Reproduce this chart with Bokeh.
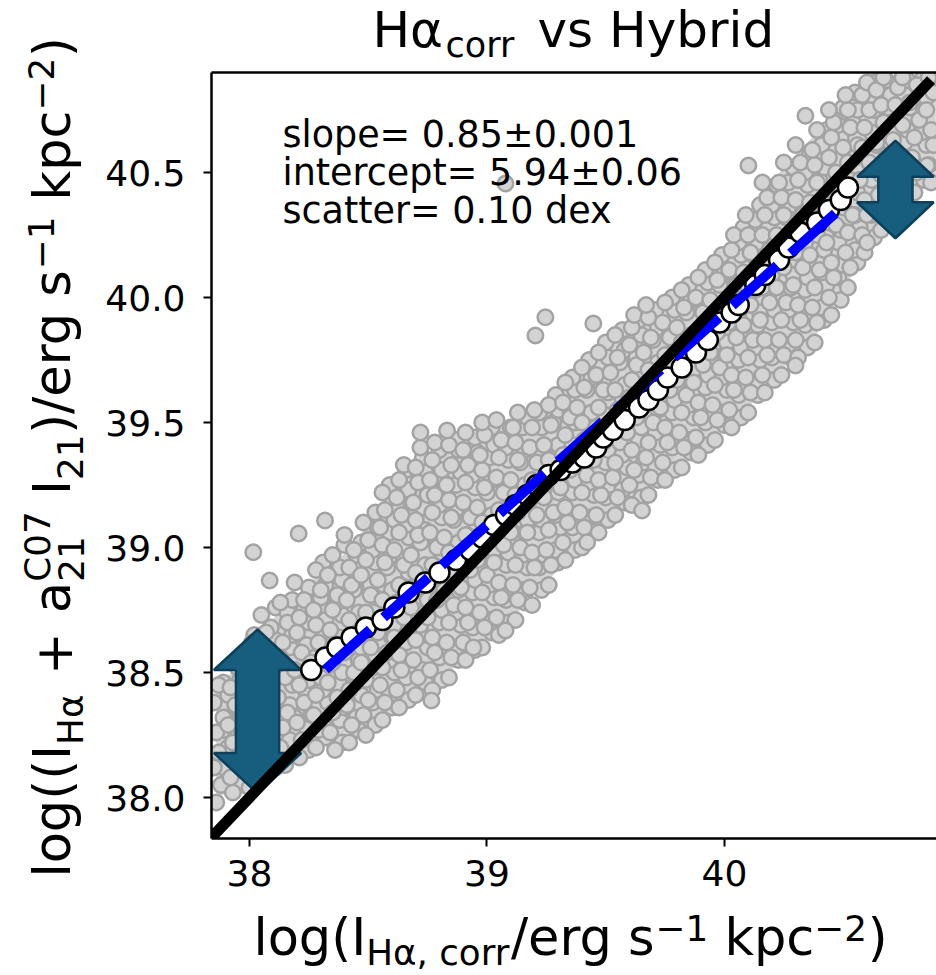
import math
from bokeh.plotting import figure
from bokeh.layouts import row, column
from bokeh.models import Range1d, LinearAxis, Label, FixedTicker, PrintfTickFormatter
from bokeh.embed import file_html
from bokeh.resources import INLINE

# ---------------- data ----------------
# gray cloud (log I_Halpha,corr , log(I_Halpha + a21 I21)), listed column by column
gray_x = [
    37.86, 37.88, 37.85, 37.87, 37.86, 37.89, 37.85, 37.87,
    37.93, 37.92, 37.95, 37.93, 37.91, 37.94, 37.92, 37.95,
    38.00, 38.02, 37.99, 38.01, 37.98, 38.02, 38.00, 37.99, 38.01,
    38.07, 38.06, 38.08, 38.05, 38.07, 38.09, 38.06, 38.08, 38.07, 38.05,
    38.15, 38.13, 38.14, 38.16, 38.12, 38.15, 38.13, 38.14, 38.16, 38.13,
    38.21, 38.22, 38.20, 38.23, 38.21, 38.19, 38.22, 38.20, 38.21, 38.23, 38.19,
    38.28, 38.29, 38.27, 38.28, 38.30, 38.26, 38.29, 38.28, 38.27, 38.30, 38.28,
    38.36, 38.34, 38.35, 38.37, 38.33, 38.35, 38.36, 38.34, 38.35, 38.37, 38.33, 38.35,
    38.42, 38.43, 38.41, 38.42, 38.44, 38.40, 38.43, 38.42, 38.41, 38.43, 38.42, 38.44, 38.40,
    38.49, 38.48, 38.50, 38.49, 38.47, 38.51, 38.48, 38.49, 38.51, 38.47, 38.49, 38.50, 38.48,
    38.56, 38.57, 38.55, 38.56, 38.58, 38.54, 38.57, 38.56, 38.54, 38.57, 38.56, 38.55, 38.57, 38.56,
    38.63, 38.62, 38.64, 38.63, 38.61, 38.65, 38.62, 38.63, 38.65, 38.61, 38.63, 38.64, 38.62, 38.63, 38.65,
    38.70, 38.71, 38.69, 38.70, 38.72, 38.68, 38.71, 38.70, 38.68, 38.71, 38.70, 38.69, 38.71, 38.70, 38.72,
    38.77, 38.76, 38.78, 38.77, 38.75, 38.79, 38.76, 38.77, 38.79, 38.76, 38.77, 38.78, 38.76, 38.77, 38.78,
    38.84, 38.85, 38.83, 38.84, 38.86, 38.82, 38.85, 38.84, 38.82, 38.85, 38.84, 38.83, 38.85, 38.84,
    38.91, 38.90, 38.92, 38.91, 38.89, 38.93, 38.90, 38.91, 38.93, 38.90, 38.91, 38.92, 38.90, 38.91,
    38.98, 38.99, 38.97, 38.98, 39.00, 38.96, 38.99, 38.98, 38.96, 38.99, 38.98, 38.97, 38.99, 38.98,
    39.05, 39.04, 39.06, 39.05, 39.03, 39.07, 39.04, 39.05, 39.07, 39.04, 39.05, 39.06, 39.04,
    39.12, 39.13, 39.11, 39.12, 39.14, 39.10, 39.13, 39.12, 39.10, 39.13, 39.12, 39.11, 39.13,
    39.19, 39.18, 39.20, 39.19, 39.17, 39.21, 39.18, 39.19, 39.21, 39.18, 39.19, 39.20,
    39.26, 39.27, 39.25, 39.26, 39.28, 39.24, 39.27, 39.26, 39.24, 39.27, 39.26,
    39.33, 39.32, 39.34, 39.33, 39.31, 39.35, 39.32, 39.33, 39.35, 39.32, 39.33,
    39.40, 39.41, 39.39, 39.40, 39.42, 39.38, 39.41, 39.40, 39.38, 39.41, 39.40,
    39.47, 39.46, 39.48, 39.47, 39.45, 39.49, 39.46, 39.47, 39.49, 39.46, 39.47,
    39.54, 39.55, 39.53, 39.54, 39.56, 39.52, 39.55, 39.54, 39.52, 39.55, 39.54,
    39.61, 39.60, 39.62, 39.61, 39.59, 39.63, 39.60, 39.61, 39.63, 39.60, 39.61, 39.62,
    39.68, 39.69, 39.67, 39.68, 39.70, 39.66, 39.69, 39.68, 39.66, 39.69, 39.68, 39.67,
    39.75, 39.74, 39.76, 39.75, 39.73, 39.77, 39.74, 39.75, 39.77, 39.74, 39.75,
    39.82, 39.83, 39.81, 39.82, 39.84, 39.80, 39.83, 39.82, 39.80, 39.83, 39.82,
    39.89, 39.88, 39.90, 39.89, 39.87, 39.91, 39.88, 39.89, 39.91, 39.88, 39.89,
    39.96, 39.97, 39.95, 39.96, 39.98, 39.94, 39.97, 39.96, 39.94, 39.97, 39.96,
    40.03, 40.02, 40.04, 40.03, 40.01, 40.05, 40.02, 40.03, 40.05, 40.02, 40.03, 40.04,
    40.10, 40.11, 40.09, 40.10, 40.12, 40.08, 40.11, 40.10, 40.08, 40.11, 40.10, 40.09,
    40.17, 40.16, 40.18, 40.17, 40.15, 40.19, 40.16, 40.17, 40.19, 40.16, 40.17, 40.18, 40.16,
    40.24, 40.25, 40.23, 40.24, 40.26, 40.22, 40.25, 40.24, 40.22, 40.25, 40.24, 40.23, 40.25,
    40.31, 40.30, 40.32, 40.31, 40.29, 40.33, 40.30, 40.31, 40.33, 40.30, 40.31, 40.32, 40.30,
    40.38, 40.39, 40.37, 40.38, 40.40, 40.36, 40.39, 40.38, 40.36, 40.39, 40.38, 40.37, 40.39,
    40.45, 40.44, 40.46, 40.45, 40.43, 40.47, 40.44, 40.45, 40.47, 40.44, 40.45, 40.46, 40.44,
    40.52, 40.53, 40.51, 40.52, 40.54, 40.50, 40.53, 40.52, 40.50, 40.53, 40.52, 40.51,
    40.59, 40.58, 40.60, 40.59, 40.57, 40.61, 40.58, 40.59, 40.61, 40.58, 40.60,
    40.66, 40.67, 40.65, 40.66, 40.68, 40.64, 40.67, 40.66, 40.64, 40.67,
    40.73, 40.72, 40.74, 40.73, 40.71, 40.75, 40.72, 40.73, 40.75,
    40.80, 40.81, 40.79, 40.80, 40.82, 40.78, 40.81,
    40.87, 40.86, 40.88, 40.87, 40.85, 40.88, 40.86,
    # isolated points
    38.016, 38.085, 38.207, 38.318, 38.766, 39.078, 38.943, 39.422, 39.246, 39.204,
    39.448, 39.653, 40.341, 40.101, 40.601, 40.299, 40.853, 39.078, 38.832, 38.720,
]
gray_y = [
    37.98, 38.05, 38.12, 38.18, 38.26, 38.32, 38.38, 38.45,
    38.02, 38.08, 38.16, 38.22, 38.29, 38.37, 38.44, 38.52,
    38.04, 38.11, 38.19, 38.25, 38.33, 38.40, 38.46, 38.55, 38.62,
    38.09, 38.16, 38.23, 38.31, 38.37, 38.45, 38.51, 38.59, 38.66, 38.73,
    38.13, 38.20, 38.28, 38.34, 38.40, 38.48, 38.56, 38.62, 38.70, 38.78,
    38.16, 38.23, 38.30, 38.38, 38.45, 38.51, 38.58, 38.66, 38.72, 38.79, 38.86,
    38.20, 38.27, 38.33, 38.41, 38.48, 38.54, 38.62, 38.69, 38.75, 38.83, 38.91,
    38.19, 38.26, 38.34, 38.40, 38.46, 38.54, 38.61, 38.67, 38.75, 38.81, 38.89, 38.97,
    38.22, 38.29, 38.37, 38.43, 38.50, 38.58, 38.64, 38.71, 38.79, 38.85, 38.92, 38.99, 39.05,
    38.25, 38.33, 38.39, 38.47, 38.54, 38.60, 38.68, 38.74, 38.81, 38.89, 38.95, 39.03, 39.10,
    38.31, 38.38, 38.45, 38.52, 38.58, 38.66, 38.73, 38.79, 38.87, 38.94, 39.01, 39.08, 39.15, 39.22,
    38.36, 38.43, 38.51, 38.57, 38.64, 38.72, 38.78, 38.85, 38.93, 38.99, 39.06, 39.13, 39.20, 39.27, 39.33,
    38.41, 38.48, 38.55, 38.63, 38.69, 38.76, 38.84, 38.90, 38.97, 39.05, 39.11, 39.18, 39.26, 39.32, 39.40,
    38.43, 38.51, 38.58, 38.64, 38.72, 38.79, 38.85, 38.93, 39.00, 39.06, 39.14, 39.21, 39.27, 39.35, 39.42,
    38.48, 38.56, 38.62, 38.70, 38.77, 38.83, 38.91, 38.98, 39.04, 39.12, 39.19, 39.25, 39.33, 39.41,
    38.55, 38.62, 38.70, 38.76, 38.84, 38.91, 38.97, 39.05, 39.12, 39.18, 39.26, 39.33, 39.39, 39.46,
    38.60, 38.68, 38.74, 38.82, 38.89, 38.95, 39.03, 39.10, 39.16, 39.24, 39.31, 39.37, 39.45, 39.50,
    38.65, 38.72, 38.80, 38.86, 38.94, 39.01, 39.07, 39.15, 39.22, 39.28, 39.36, 39.43, 39.51,
    38.71, 38.79, 38.85, 38.93, 39.00, 39.06, 39.14, 39.21, 39.27, 39.35, 39.42, 39.48, 39.54,
    38.77, 38.84, 38.92, 38.98, 39.06, 39.13, 39.19, 39.27, 39.34, 39.40, 39.48, 39.55,
    38.85, 38.93, 38.99, 39.07, 39.14, 39.20, 39.28, 39.35, 39.41, 39.49, 39.57,
    38.95, 39.02, 39.10, 39.16, 39.24, 39.31, 39.37, 39.45, 39.52, 39.58, 39.66,
    39.00, 39.08, 39.14, 39.22, 39.29, 39.35, 39.43, 39.50, 39.56, 39.64, 39.72,
    39.06, 39.13, 39.21, 39.27, 39.35, 39.42, 39.48, 39.56, 39.63, 39.69, 39.78,
    39.13, 39.20, 39.28, 39.34, 39.42, 39.49, 39.55, 39.63, 39.70, 39.76, 39.85,
    39.17, 39.25, 39.31, 39.39, 39.46, 39.52, 39.60, 39.67, 39.73, 39.81, 39.88, 39.93,
    39.21, 39.28, 39.36, 39.42, 39.50, 39.57, 39.63, 39.71, 39.78, 39.84, 39.92, 39.97,
    39.27, 39.34, 39.42, 39.48, 39.56, 39.63, 39.69, 39.77, 39.84, 39.90, 39.98,
    39.32, 39.40, 39.46, 39.54, 39.61, 39.67, 39.75, 39.82, 39.88, 39.96, 40.03,
    39.37, 39.44, 39.52, 39.58, 39.66, 39.73, 39.79, 39.87, 39.94, 40.00, 40.08,
    39.43, 39.51, 39.57, 39.65, 39.72, 39.78, 39.86, 39.93, 39.99, 40.07, 40.14,
    39.48, 39.55, 39.63, 39.69, 39.77, 39.84, 39.90, 39.98, 40.05, 40.11, 40.19, 40.25,
    39.54, 39.62, 39.68, 39.76, 39.83, 39.89, 39.97, 40.04, 40.10, 40.18, 40.25, 40.33,
    39.62, 39.69, 39.77, 39.83, 39.91, 39.98, 40.04, 40.12, 40.19, 40.25, 40.33, 40.40, 40.46,
    39.69, 39.77, 39.83, 39.91, 39.98, 40.04, 40.12, 40.19, 40.25, 40.33, 40.40, 40.46, 40.54,
    39.76, 39.83, 39.91, 39.97, 40.05, 40.12, 40.18, 40.26, 40.33, 40.39, 40.47, 40.54, 40.61,
    39.82, 39.90, 39.96, 40.04, 40.11, 40.17, 40.25, 40.32, 40.38, 40.46, 40.53, 40.59, 40.67,
    39.93, 40.00, 40.08, 40.14, 40.22, 40.29, 40.35, 40.43, 40.50, 40.56, 40.64, 40.70, 40.75,
    40.04, 40.12, 40.18, 40.26, 40.33, 40.39, 40.47, 40.54, 40.60, 40.68, 40.75, 40.81,
    40.18, 40.25, 40.33, 40.39, 40.47, 40.54, 40.60, 40.68, 40.75, 40.81, 40.86,
    40.27, 40.35, 40.41, 40.49, 40.56, 40.62, 40.70, 40.77, 40.83, 40.88,
    40.34, 40.42, 40.48, 40.56, 40.63, 40.69, 40.77, 40.84, 40.88,
    40.42, 40.50, 40.56, 40.64, 40.71, 40.78, 40.85,
    40.46, 40.53, 40.61, 40.67, 40.75, 40.82, 40.88,
    # isolated points
    38.981, 38.868, 39.056, 39.108, 38.388, 38.668, 38.600, 39.021, 39.921, 39.848,
    39.896, 39.148, 40.727, 40.528, 40.220, 39.728, 40.528, 40.456, 39.468, 39.460,
]
# second, interleaved set of cloud points (the cloud is denser than one layer)
gray2_x = [
    37.90, 37.89, 37.91, 37.89, 37.90, 37.91, 37.89,
    37.97, 37.96, 37.98, 37.96, 37.97, 37.98, 37.96, 37.97,
    38.04, 38.03, 38.05, 38.03, 38.04, 38.05, 38.03, 38.04, 38.02,
    38.11, 38.10, 38.12, 38.10, 38.11, 38.12, 38.10, 38.11, 38.09, 38.11,
    38.18, 38.17, 38.19, 38.17, 38.18, 38.19, 38.17, 38.18, 38.16, 38.18,
    38.25, 38.24, 38.26, 38.24, 38.25, 38.26, 38.24, 38.25, 38.23, 38.25,
    38.32, 38.31, 38.33, 38.31, 38.32, 38.33, 38.31, 38.32, 38.30, 38.32, 38.31,
    38.39, 38.38, 38.40, 38.38, 38.39, 38.40, 38.38, 38.39, 38.37, 38.39, 38.38, 38.40,
    38.46, 38.45, 38.47, 38.45, 38.46, 38.47, 38.45, 38.46, 38.44, 38.46, 38.45, 38.47,
    38.53, 38.52, 38.54, 38.52, 38.53, 38.54, 38.52, 38.53, 38.51, 38.53, 38.52, 38.54, 38.53,
    38.60, 38.59, 38.61, 38.59, 38.60, 38.61, 38.59, 38.60, 38.58, 38.60, 38.59, 38.61, 38.60, 38.59,
    38.67, 38.66, 38.68, 38.66, 38.67, 38.68, 38.66, 38.67, 38.65, 38.67, 38.66, 38.68, 38.67, 38.66,
    38.74, 38.73, 38.75, 38.73, 38.74, 38.75, 38.73, 38.74, 38.72, 38.74, 38.73, 38.75, 38.74, 38.73,
    38.81, 38.80, 38.82, 38.80, 38.81, 38.82, 38.80, 38.81, 38.79, 38.81, 38.80, 38.82, 38.81, 38.80,
    38.88, 38.87, 38.89, 38.87, 38.88, 38.89, 38.87, 38.88, 38.86, 38.88, 38.87, 38.89, 38.88, 38.87,
    38.95, 38.94, 38.96, 38.94, 38.95, 38.96, 38.94, 38.95, 38.93, 38.95, 38.94, 38.96, 38.95,
    39.02, 39.01, 39.03, 39.01, 39.02, 39.03, 39.01, 39.02, 39.00, 39.02, 39.01, 39.03, 39.02,
    39.09, 39.08, 39.10, 39.08, 39.09, 39.10, 39.08, 39.09, 39.07, 39.09, 39.08, 39.10,
    39.16, 39.15, 39.17, 39.15, 39.16, 39.17, 39.15, 39.16, 39.14, 39.16, 39.15, 39.17,
    39.23, 39.22, 39.24, 39.22, 39.23, 39.24, 39.22, 39.23, 39.21, 39.23, 39.22,
    39.30, 39.29, 39.31, 39.29, 39.30, 39.31, 39.29, 39.30, 39.28, 39.30, 39.29,
    39.37, 39.36, 39.38, 39.36, 39.37, 39.38, 39.36, 39.37, 39.35, 39.37, 39.36,
    39.44, 39.43, 39.45, 39.43, 39.44, 39.45, 39.43, 39.44, 39.42, 39.44, 39.43,
    39.51, 39.50, 39.52, 39.50, 39.51, 39.52, 39.50, 39.51, 39.49, 39.51, 39.50,
    39.58, 39.57, 39.59, 39.57, 39.58, 39.59, 39.57, 39.58, 39.56, 39.58, 39.57,
    39.65, 39.64, 39.66, 39.64, 39.65, 39.66, 39.64, 39.65, 39.63, 39.65, 39.64,
    39.72, 39.71, 39.73, 39.71, 39.72, 39.73, 39.71, 39.72, 39.70, 39.72, 39.71,
    39.79, 39.78, 39.80, 39.78, 39.79, 39.80, 39.78, 39.79, 39.77, 39.79, 39.78,
    39.86, 39.85, 39.87, 39.85, 39.86, 39.87, 39.85, 39.86, 39.84, 39.86, 39.85,
    39.93, 39.92, 39.94, 39.92, 39.93, 39.94, 39.92, 39.93, 39.91, 39.93, 39.92,
    40.00, 39.99, 40.01, 39.99, 40.00, 40.01, 39.99, 40.00, 39.98, 40.00, 39.99,
    40.07, 40.06, 40.08, 40.06, 40.07, 40.08, 40.06, 40.07, 40.05, 40.07, 40.06, 40.08,
    40.14, 40.13, 40.15, 40.13, 40.14, 40.15, 40.13, 40.14, 40.12, 40.14, 40.13, 40.15,
    40.21, 40.20, 40.22, 40.20, 40.21, 40.22, 40.20, 40.21, 40.19, 40.21, 40.20, 40.22,
    40.28, 40.27, 40.29, 40.27, 40.28, 40.29, 40.27, 40.28, 40.26, 40.28, 40.27, 40.29,
    40.35, 40.34, 40.36, 40.34, 40.35, 40.36, 40.34, 40.35, 40.33, 40.35, 40.34, 40.36,
    40.42, 40.41, 40.43, 40.41, 40.42, 40.43, 40.41, 40.42, 40.40, 40.42, 40.41, 40.43,
    40.49, 40.48, 40.50, 40.48, 40.49, 40.50, 40.48, 40.49, 40.47, 40.49, 40.48, 40.50,
    40.56, 40.55, 40.57, 40.55, 40.56, 40.57, 40.55, 40.56, 40.54, 40.56, 40.55,
    40.63, 40.62, 40.64, 40.62, 40.63, 40.64, 40.62, 40.63, 40.61, 40.63,
    40.70, 40.69, 40.71, 40.69, 40.70, 40.71, 40.69, 40.70, 40.68,
    40.77, 40.76, 40.78, 40.76, 40.77, 40.78, 40.76, 40.77,
    40.84, 40.83, 40.85, 40.83, 40.84, 40.85, 40.83,
]
gray2_y = [
    38.06, 38.12, 38.20, 38.27, 38.32, 38.41, 38.46,
    38.05, 38.14, 38.19, 38.28, 38.33, 38.42, 38.47, 38.56,
    38.09, 38.14, 38.23, 38.28, 38.37, 38.42, 38.51, 38.56, 38.65,
    38.12, 38.21, 38.26, 38.35, 38.40, 38.49, 38.54, 38.63, 38.68, 38.76,
    38.18, 38.23, 38.32, 38.37, 38.45, 38.51, 38.60, 38.65, 38.74, 38.79,
    38.19, 38.28, 38.33, 38.42, 38.47, 38.56, 38.61, 38.70, 38.75, 38.84,
    38.24, 38.29, 38.38, 38.43, 38.52, 38.57, 38.66, 38.71, 38.80, 38.85, 38.94,
    38.22, 38.31, 38.36, 38.45, 38.50, 38.59, 38.64, 38.73, 38.78, 38.87, 38.92, 39.01,
    38.27, 38.32, 38.41, 38.46, 38.55, 38.60, 38.69, 38.74, 38.83, 38.88, 38.97, 39.02,
    38.29, 38.38, 38.43, 38.52, 38.57, 38.66, 38.71, 38.80, 38.85, 38.94, 38.99, 39.08, 39.14,
    38.36, 38.41, 38.50, 38.55, 38.64, 38.69, 38.78, 38.83, 38.92, 38.97, 39.06, 39.11, 39.20, 39.25,
    38.39, 38.48, 38.53, 38.62, 38.67, 38.76, 38.81, 38.90, 38.95, 39.04, 39.09, 39.18, 39.23, 39.31,
    38.46, 38.51, 38.60, 38.65, 38.74, 38.79, 38.88, 38.93, 39.02, 39.07, 39.16, 39.21, 39.30, 39.36,
    38.47, 38.56, 38.61, 38.70, 38.75, 38.84, 38.89, 38.98, 39.03, 39.12, 39.17, 39.26, 39.31, 39.39,
    38.55, 38.60, 38.69, 38.74, 38.83, 38.88, 38.97, 39.02, 39.11, 39.16, 39.25, 39.30, 39.39, 39.43,
    38.59, 38.68, 38.73, 38.82, 38.87, 38.96, 39.01, 39.10, 39.15, 39.24, 39.29, 39.38, 39.44,
    38.66, 38.71, 38.80, 38.85, 38.94, 38.99, 39.08, 39.13, 39.22, 39.27, 39.36, 39.41, 39.48,
    38.70, 38.79, 38.84, 38.93, 38.98, 39.07, 39.12, 39.21, 39.26, 39.35, 39.40, 39.48,
    38.78, 38.83, 38.92, 38.97, 39.06, 39.11, 39.20, 39.25, 39.34, 39.39, 39.48, 39.52,
    38.83, 38.92, 38.97, 39.06, 39.11, 39.20, 39.25, 39.34, 39.39, 39.48, 39.54,
    38.94, 38.99, 39.08, 39.13, 39.22, 39.27, 39.36, 39.41, 39.50, 39.55, 39.61,
    38.99, 39.08, 39.13, 39.22, 39.27, 39.36, 39.41, 39.50, 39.55, 39.63, 39.68,
    39.07, 39.12, 39.21, 39.26, 39.35, 39.40, 39.49, 39.54, 39.63, 39.68, 39.75,
    39.11, 39.20, 39.25, 39.34, 39.39, 39.48, 39.53, 39.62, 39.67, 39.76, 39.82,
    39.18, 39.23, 39.32, 39.37, 39.46, 39.51, 39.60, 39.65, 39.74, 39.79, 39.87,
    39.20, 39.29, 39.34, 39.43, 39.48, 39.57, 39.62, 39.71, 39.76, 39.85, 39.91,
    39.27, 39.32, 39.41, 39.46, 39.55, 39.60, 39.69, 39.74, 39.83, 39.88, 39.95,
    39.31, 39.40, 39.45, 39.54, 39.59, 39.68, 39.73, 39.82, 39.87, 39.95, 40.00,
    39.38, 39.43, 39.52, 39.57, 39.66, 39.71, 39.80, 39.85, 39.94, 39.99, 40.05,
    39.41, 39.50, 39.55, 39.64, 39.69, 39.78, 39.83, 39.92, 39.97, 40.06, 40.11,
    39.49, 39.54, 39.63, 39.68, 39.77, 39.82, 39.91, 39.96, 40.05, 40.10, 40.17,
    39.52, 39.61, 39.66, 39.75, 39.80, 39.89, 39.94, 40.03, 40.08, 40.17, 40.22, 40.28,
    39.61, 39.66, 39.75, 39.80, 39.89, 39.94, 40.03, 40.08, 40.17, 40.22, 40.31, 40.37,
    39.67, 39.76, 39.81, 39.90, 39.95, 40.04, 40.09, 40.18, 40.23, 40.32, 40.37, 40.45,
    39.76, 39.81, 39.90, 39.95, 40.04, 40.09, 40.18, 40.23, 40.32, 40.37, 40.46, 40.52,
    39.80, 39.89, 39.94, 40.03, 40.08, 40.17, 40.22, 40.31, 40.36, 40.45, 40.50, 40.58,
    39.91, 39.96, 40.05, 40.10, 40.19, 40.24, 40.33, 40.38, 40.47, 40.52, 40.61, 40.67,
    39.99, 40.08, 40.13, 40.22, 40.27, 40.36, 40.41, 40.50, 40.55, 40.64, 40.69, 40.76,
    40.14, 40.19, 40.28, 40.33, 40.42, 40.47, 40.56, 40.61, 40.70, 40.75, 40.82,
    40.24, 40.33, 40.38, 40.47, 40.52, 40.61, 40.66, 40.75, 40.80, 40.86,
    40.34, 40.39, 40.48, 40.53, 40.62, 40.67, 40.76, 40.81, 40.87,
    40.39, 40.48, 40.53, 40.62, 40.67, 40.76, 40.81, 40.87,
    40.47, 40.52, 40.61, 40.66, 40.75, 40.80, 40.87,
]

# dense core of the cloud (inner envelope)
env_x = [37.86, 38.00, 38.14, 38.28, 38.42, 38.56, 38.70, 38.84, 38.98, 39.12, 39.26, 39.40,
         39.54, 39.68, 39.82, 39.96, 40.10, 40.24, 40.38, 40.52, 40.66, 40.80, 40.89]
env_lo = [38.00, 38.05, 38.14, 38.22, 38.24, 38.33, 38.43, 38.50, 38.62, 38.73, 38.87, 39.02,
          39.15, 39.23, 39.34, 39.45, 39.56, 39.71, 39.84, 40.06, 40.29, 40.44, 40.48]
env_hi = [38.42, 38.60, 38.76, 38.88, 38.99, 39.18, 39.37, 39.40, 39.47, 39.52, 39.56, 39.70,
          39.83, 39.95, 40.01, 40.12, 40.30, 40.51, 40.65, 40.79, 40.86, 40.86, 40.86]

# binned medians (white circles)
med_x = [38.26, 38.32, 38.37, 38.43, 38.49, 38.56, 38.61, 38.67, 38.74, 38.80, 38.87, 38.93,
         38.98, 39.03, 39.08, 39.12, 39.17, 39.21, 39.26, 39.31, 39.36, 39.41, 39.46, 39.49,
         39.53, 39.58, 39.64, 39.68, 39.72, 39.76, 39.82, 39.88, 39.93, 39.98, 40.03, 40.06,
         40.13, 40.17, 40.23, 40.27, 40.32, 40.39, 40.44, 40.49, 40.52]
med_y = [38.51, 38.56, 38.60, 38.64, 38.68, 38.71, 38.76, 38.82, 38.86, 38.90, 38.95, 38.99,
         39.04, 39.09, 39.13, 39.17, 39.21, 39.25, 39.29, 39.31, 39.34, 39.36, 39.40, 39.44,
         39.47, 39.51, 39.56, 39.59, 39.63, 39.68, 39.72, 39.78, 39.83, 39.90, 39.94, 39.97,
         40.05, 40.09, 40.15, 40.20, 40.26, 40.30, 40.35, 40.39, 40.44]

# linear fit
fit_slope = 0.85
fit_intercept = 5.94
fit_x = [38.32, 40.50]

# one-to-one line
one_x = [37.84, 40.87]

# double arrows: centre x, lower tip, upper tip
arrow_x = [38.034, 40.720]
arrow_lo = [38.016, 40.237]
arrow_hi = [38.672, 40.627]
arrow_head_w = [0.184, 0.161]     # half width of head (data x)
arrow_shaft_w = [0.091, 0.072]    # half width of shaft (data x)
arrow_head_len = [0.162, 0.144]   # head length (data y)

x_ticks = [38, 39, 40]
y_ticks = [38.0, 38.5, 39.0, 39.5, 40.0, 40.5]

annot_lines = ["slope= 0.85\u00b10.001", "intercept= 5.94\u00b10.06", "scatter= 0.10 dex"]

# ---------------- layout constants (page pixels) ----------------
FONT = "DejaVu Sans"
YL_W = 100          # width of the strip holding the rotated y label
TITLE_H = 68        # height of the strip holding the title
MAIN_TOP = 4
MAIN_BOTTOM = 70
FRAME_W, FRAME_H = 725, 766
RIGHT_W = 936 - YL_W
MAIN_H = MAIN_TOP + FRAME_H + MAIN_BOTTOM
XL_TOP = TITLE_H + MAIN_H
XL_H = 975 - XL_TOP
MID = 0.346         # Label y is the middle of the text box: baseline sits MID*size below it


def blank(w, h):
    f = figure(width=w, height=h, x_range=Range1d(0, 1), y_range=Range1d(0, 1),
               x_axis_location=None, y_axis_location=None, min_border=0,
               output_backend="svg", toolbar_location=None)
    f.outline_line_color = None
    f.xgrid.visible = False
    f.ygrid.visible = False
    f.background_fill_color = "white"
    f.border_fill_color = "white"
    return f


# ---------------- main figure ----------------
p = figure(frame_width=FRAME_W, frame_height=FRAME_H,
           x_range=Range1d(37.84, 40.893), y_range=Range1d(37.836, 40.9),
           min_border_left=211 - YL_W, min_border_right=0,
           min_border_top=MAIN_TOP, min_border_bottom=MAIN_BOTTOM,
           output_backend="svg", toolbar_location=None)
p.outline_line_color = None
p.xgrid.visible = False
p.ygrid.visible = False
p.background_fill_color = "white"
p.border_fill_color = "white"

for ax in (p.xaxis[0], p.yaxis[0]):
    ax.axis_line_width = 2.5
    ax.axis_line_color = "black"
    ax.major_tick_line_width = 2
    ax.major_tick_in = 0
    ax.major_tick_out = 8
    ax.minor_tick_line_color = None
    ax.major_label_text_font = FONT
    ax.major_label_text_font_size = "36px"
    ax.major_label_text_color = "black"
p.xaxis[0].ticker = FixedTicker(ticks=x_ticks)
p.xaxis[0].formatter = PrintfTickFormatter(format="%d")
p.xaxis[0].major_label_standoff = 13
p.yaxis[0].ticker = FixedTicker(ticks=y_ticks)
p.yaxis[0].formatter = PrintfTickFormatter(format="%.1f")
p.yaxis[0].major_label_standoff = 18

top = LinearAxis(ticker=FixedTicker(ticks=[]), axis_line_width=2.5, axis_line_color="black",
                 major_tick_line_color=None, minor_tick_line_color=None,
                 major_tick_out=0, major_tick_in=0, major_label_standoff=0,
                 major_label_text_color=None)
p.add_layout(top, "above")

# cloud
p.varea(x=env_x, y1=env_lo, y2=env_hi, fill_color="#d3d3d3")
p.scatter(gray2_x, gray2_y, size=15.5, fill_color="#d3d3d3", line_color="#a3a3a3", line_width=2.5)
p.scatter(gray_x, gray_y, size=15.5, fill_color="#d3d3d3", line_color="#a3a3a3", line_width=2.5)

# arrows
axs, ays = [], []
for cx, y0, y1, hw, sw, hl in zip(arrow_x, arrow_lo, arrow_hi, arrow_head_w, arrow_shaft_w, arrow_head_len):
    axs.append([cx, cx + hw, cx + sw, cx + sw, cx + hw, cx, cx - hw, cx - sw, cx - sw, cx - hw])
    ays.append([y1, y1 - hl, y1 - hl, y0 + hl, y0 + hl, y0, y0 + hl, y0 + hl, y1 - hl, y1 - hl])
p.patches(axs, ays, fill_color="#175e7e", line_color="#0e405c", line_width=2.5)

# medians
p.scatter(med_x, med_y, size=20, fill_color="white", line_color="black", line_width=2.5)

# fit line
fit_y = [fit_slope * v + fit_intercept for v in fit_x]
p.line(fit_x, fit_y, line_color="#0000ff", line_width=10, line_dash="60 18", line_cap="butt")

# one-to-one
p.line(one_x, one_x, line_color="black", line_width=11)

# ---------------- texts ----------------
ADV = {'l': .2778, 'o': .6118, 'g': .6348, '(': .3901, ')': .3901, 'I': .2949, 'H': .7520,
       '\u03b1': .6592, ',': .3179, ' ': .3179, 'c': .5498, 'r': .4111, '/': .3369, 'e': .6152,
       's': .5210, '\u2212': .8379, '1': .6362, '2': .6362, '0': .6362, '7': .6362, 'k': .5791,
       'p': .6348, '+': .8379, 'a': .6128, 'C': .6982}
SP = ADV[' ']


def adv(s, size):
    return sum(ADV[c] for c in s) * size


def txt(fig, ox, oy, x, y, text, size, angle=0.0):
    # (x, y): start of the baseline in page pixels
    if angle == 0.0:
        y = y - MID * size
    else:
        x = x - MID * size
    fig.add_layout(Label(x=x - ox, y=y - oy, x_units="canvas", y_units="canvas", text=text,
                         text_font=FONT, text_font_size=f"{size:.1f}px", text_color="black",
                         text_align="left", text_baseline="alphabetic", angle=angle))


title_fig = blank(RIGHT_W, TITLE_H)
xlab_fig = blank(RIGHT_W, XL_H)
ylab_fig = blank(YL_W, 975)

# title
txt(title_fig, YL_W, 0, 372, 47, "H\u03b1", 50)
txt(title_fig, YL_W, 0, 445, 57, "corr", 35)
txt(title_fig, YL_W, 0, 537, 47, "vs Hybrid", 50)

# annotation (inside the frame)
for i, line in enumerate(annot_lines):
    txt(p, YL_W, TITLE_H, 282, 147 + 38 * i, line, 36.5)

# x label: (text, kind, space before in em)
S = 51.0
s2 = 0.7 * S
SUB, SUP = 0.19, 0.30
xl = [("log(I", "n", 0), ("H\u03b1, corr", "b", 0), ("/erg s", "n", 0.05), ("\u22121", "p", 0),
      ("kpc", "n", 1), ("\u22122", "p", 0), (")", "n", 0.05)]
base = 955
xc = 253
for t, k, sp in xl:
    xc += sp * SP * S
    if k == "n":
        txt(xlab_fig, YL_W, XL_TOP, xc, base, t, S)
        xc += adv(t, S)
    elif k == "b":
        txt(xlab_fig, YL_W, XL_TOP, xc, base + SUB * S, t, s2)
        xc += adv(t, s2)
    else:
        txt(xlab_fig, YL_W, XL_TOP, xc, base - SUP * S, t, s2)
        xc += adv(t, s2)

# y label (rotated, reading upwards)
yl = [("log((I", "n", 0), ("H\u03b1", "b", 0), ("+", "n", 1.2), ("a", "n", 1.2),
      (("C07", "21"), "s", 0), ("I", "n", 1), ("21", "b", 0), (")/erg s", "n", 0.05),
      ("\u22121", "p", 0), ("kpc", "n", 1), ("\u22122", "p", 0), (")", "n", 0.05)]
bx = 70
yc = 877
ang = math.pi / 2
for t, k, sp in yl:
    yc -= sp * SP * S
    if k == "n":
        txt(ylab_fig, 0, 0, bx, yc, t, S, ang)
        yc -= adv(t, S)
    elif k == "b":
        txt(ylab_fig, 0, 0, bx + 0.24 * S, yc, t, s2, ang)
        yc -= adv(t, s2)
    elif k == "p":
        txt(ylab_fig, 0, 0, bx - 0.34 * S, yc, t, s2, ang)
        yc -= adv(t, s2)
    else:
        sup, sub = t
        txt(ylab_fig, 0, 0, bx - 0.40 * S, yc, sup, s2, ang)
        txt(ylab_fig, 0, 0, bx + 0.25 * S, yc, sub, s2, ang)
        yc -= max(adv(sup, s2), adv(sub, s2))

layout = row(ylab_fig, column(title_fig, p, xlab_fig))
open("out.html", "w").write(file_html(layout, INLINE))
